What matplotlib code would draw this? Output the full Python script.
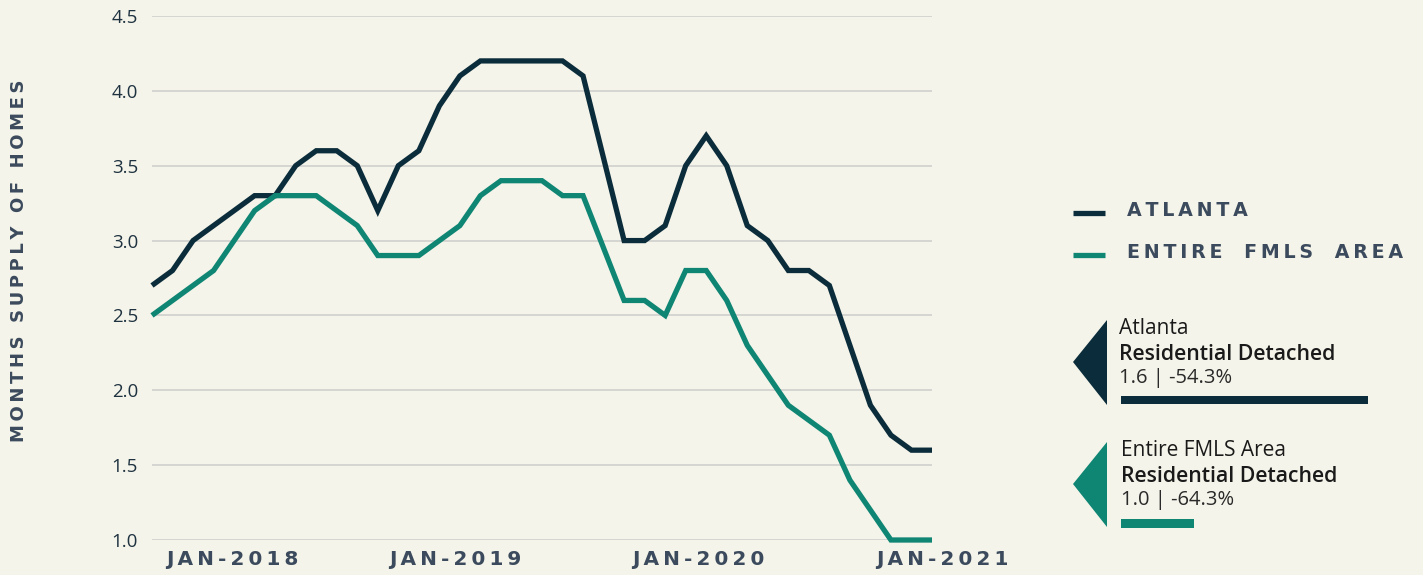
import matplotlib
matplotlib.use("Agg")
import matplotlib.pyplot as plt
from matplotlib.patches import Polygon
from matplotlib.lines import Line2D

# ---------------- data ----------------
months = ["Nov-2017", "Dec-2017",
          "Jan-2018", "Feb-2018", "Mar-2018", "Apr-2018", "May-2018", "Jun-2018",
          "Jul-2018", "Aug-2018", "Sep-2018", "Oct-2018", "Nov-2018", "Dec-2018",
          "Jan-2019", "Feb-2019", "Mar-2019", "Apr-2019", "May-2019", "Jun-2019",
          "Jul-2019", "Aug-2019", "Sep-2019", "Oct-2019", "Nov-2019", "Dec-2019",
          "Jan-2020", "Feb-2020", "Mar-2020", "Apr-2020", "May-2020", "Jun-2020",
          "Jul-2020", "Aug-2020", "Sep-2020", "Oct-2020", "Nov-2020", "Dec-2020",
          "Jan-2021"]
atlanta = [2.7, 2.8, 3.0, 3.1, 3.2, 3.3, 3.3, 3.5, 3.6, 3.6,
           3.5, 3.2, 3.5, 3.6, 3.9, 4.1, 4.2, 4.2, 4.2, 4.2,
           4.2, 4.1, 3.55, 3.0, 3.0, 3.1, 3.5, 3.7, 3.5, 3.1,
           3.0, 2.8, 2.8, 2.7, 2.3, 1.9, 1.7, 1.6, 1.6]
fmls = [2.5, 2.6, 2.7, 2.8, 3.0, 3.2, 3.3, 3.3, 3.3, 3.2,
        3.1, 2.9, 2.9, 2.9, 3.0, 3.1, 3.3, 3.4, 3.4, 3.4,
        3.3, 3.3, 2.95, 2.6, 2.6, 2.5, 2.8, 2.8, 2.6, 2.3,
        2.1, 1.9, 1.8, 1.7, 1.4, 1.2, 1.0, 1.0, 1.0]
series_names = ["ATLANTA", "ENTIRE FMLS AREA"]
x_tick_labels = ["JAN-2018", "JAN-2019", "JAN-2020", "JAN-2021"]
y_ticks = [1.0, 1.5, 2.0, 2.5, 3.0, 3.5, 4.0, 4.5]
y_label = "MONTHS SUPPLY OF HOMES"

card_titles = ["Atlanta", "Entire FMLS Area"]
card_subtitle = "Residential Detached"
card_values = [1.6, 1.0]
card_changes = ["-54.3%", "-64.3%"]

# ---------------- style ----------------
BG = "#f5f4ea"
DARK = "#0b2d3b"
TEAL = "#0f8574"
SLATE = "#3b4a5c"
GRID = "#d2d2d0"
W, H = 1423, 575
THIN = "\u2009"


def spaced(s, gap=2):
    words = s.split(" ")
    sep = THIN * gap + " " + THIN * gap
    return sep.join(THIN.join(list(w)) for w in words)


COND = ["DejaVu Sans"]
BODY = ["Open Sans", "DejaVu Sans"]

fig = plt.figure(figsize=(W / 100, H / 100), dpi=100, facecolor=BG)


def fx(px):
    return px / W


def fy(py):
    return 1 - py / H


ax = fig.add_axes([fx(152), fy(540), fx(932) - fx(152), fy(16) - fy(540)])
ax.set_facecolor(BG)

x = list(range(len(months)))
line_a, = ax.plot(x, atlanta, color=DARK, lw=3.8, solid_joinstyle="miter",
                  solid_capstyle="butt", clip_on=False, zorder=3)
line_f, = ax.plot(x, fmls, color=TEAL, lw=3.8, solid_joinstyle="miter",
                  solid_capstyle="butt", clip_on=False, zorder=3)

ax.set_xlim(0, len(months) - 1)
ax.set_ylim(1.0, 4.5)
ax.set_yticks(y_ticks)
ax.set_yticklabels([f"{v:.1f}" for v in y_ticks], family=BODY, fontsize=13.5,
                   color="#1e3240")
ax.tick_params(axis="y", length=0, pad=10)
ax.set_xticks([])
for s in ax.spines.values():
    s.set_visible(False)
ax.grid(axis="y", color=GRID, lw=1.3, zorder=0)
ax.set_axisbelow(True)

# x labels (positions in month-index units)
x_label_pos = [3.9, 14.75, 26.6, 38.5]
for p, t in zip(x_label_pos, x_tick_labels):
    ax.text(p, -0.037, spaced(t), transform=ax.get_xaxis_transform(),
            ha="center", va="center", family=COND, fontweight="bold",
            fontsize=14.5, color=SLATE, clip_on=False)

fig.text(fx(19), fy(261), spaced(y_label, gap=1), rotation=90, ha="center",
         va="center", family=COND, fontweight="bold", fontsize=13, color=SLATE)

# legend (manual, using the series line styles)
leg_rows = [(line_a, 210), (line_f, 252)]
for (ln, yy), name in zip(leg_rows, series_names):
    fig.add_artist(Line2D([fx(1073), fx(1105)], [fy(yy + 3), fy(yy + 3)],
                          transform=fig.transFigure, color=ln.get_color(),
                          lw=ln.get_linewidth(), solid_capstyle="butt"))
    fig.text(fx(1127), fy(yy), spaced(name), ha="left", va="center",
             family=COND, fontweight="bold", fontsize=13.7, color=SLATE)

# summary cards
card_colors = [DARK, TEAL]
card_tops = [320, 442]
for i in range(2):
    top = card_tops[i]
    tri = Polygon([(fx(1073), fy(top + 42)), (fx(1107), fy(top)), (fx(1107), fy(top + 85))],
                  closed=True, transform=fig.transFigure, facecolor=card_colors[i],
                  edgecolor="none")
    fig.patches.append(tri)
    tx = 1119 if i == 0 else 1121
    fig.text(fx(tx), fy(top + 9), card_titles[i], family=BODY, fontsize=15,
             color="#1a1a1a", va="center", ha="left")
    fig.text(fx(tx), fy(top + 34), card_subtitle, family=BODY, fontsize=15.3,
             fontweight="semibold", color="#1a1a1a", va="center", ha="left")
    fig.text(fx(tx), fy(top + 58), f"{card_values[i]:.1f} | {card_changes[i]}",
             family=BODY, fontsize=14.5, fontweight="normal", color="#2a2a2a",
             va="center", ha="left")

# card bars drawn from the card values
bar_rows = [(396, 404), (519, 528)]
for i, (y0, y1) in enumerate(bar_rows):
    bax = fig.add_axes([fx(1121), fy(y1), fx(1400) - fx(1121), fy(y0) - fy(y1)])
    bax.set_facecolor("none")
    bax.axis("off")
    bax.barh([0], [card_values[i]], height=1.0, left=0, color=card_colors[i])
    bax.set_xlim(0.75, 0.75 + (1400 - 1121) / 290.6)
    bax.set_ylim(-0.5, 0.5)

fig.savefig("out.png", dpi=100, facecolor=BG)
